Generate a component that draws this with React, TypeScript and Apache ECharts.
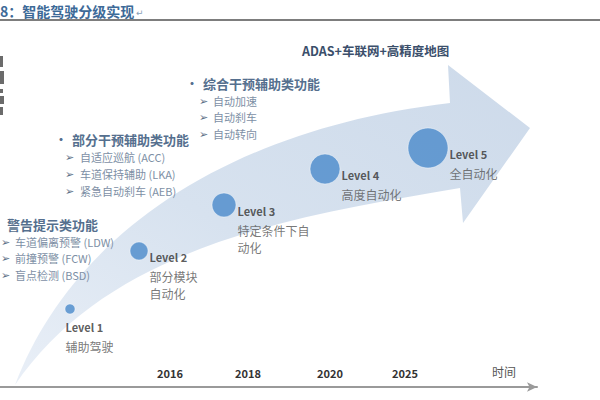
import React, { useEffect, useRef } from "react";
import * as echarts from "echarts";

// ---- data ----
const levelNames = ["Level 1", "Level 2", "Level 3", "Level 4", "Level 5"];
const levelDesc = ["辅助驾驶", "部分模块\n自动化", "特定条件下自\n动化", "高度自动化", "全自动化"];
const levelStage = [70, 139, 224, 325, 428];
const levelHeight = [78, 136, 182, 218, 239];
const levelSize = [10, 18, 24, 30, 40];

const yearLabels = ["2016", "2018", "2020", "2025"];
const yearStage = [170, 248, 330, 405];
const timeLabel = "时间";
const timeStage = 504;

const warnTitle = "警告提示类功能";
const warnFeatures = ["车道偏离预警 (LDW)", "前撞预警 (FCW)", "盲点检测 (BSD)"];
const partialTitle = "部分干预辅助类功能";
const partialFeatures = ["自适应巡航 (ACC)", "车道保持辅助 (LKA)", "紧急自动刹车 (AEB)"];
const combinedTitle = "综合干预辅助类功能";
const combinedFeatures = ["自动加速", "自动刹车", "自动转向"];
const topNote = "ADAS+车联网+高精度地图";
const chartTitle = "8：智能驾驶分级实现";

const ARROW_D =
  "M15,385 C70,240 220,130 450,103 L448,65 L530,128 L463,223 L460,188 C300,215 110,245 15,385 Z";

let registered = false;
function ensureShape() {
  if (registered) return;
  echarts.graphic.registerShape("growArrow", echarts.graphic.extendPath(ARROW_D, {}) as any);
  registered = true;
}

const FONT = '"Noto Sans CJK SC", "Noto Sans", sans-serif';

function featureBlock(title: string, items: string[], bx: number, by: number, hx: number, ax: number, tx: number, ys: number[], bullet: boolean) {
  const els: any[] = [];
  if (bullet) {
    els.push({ type: "text", x: bx, y: by, style: { text: "•", font: `bold 12px ${FONT}`, fill: "#556f8e", verticalAlign: "middle" } });
  }
  els.push({ type: "text", x: hx, y: by, style: { text: title, font: `bold 13px ${FONT}`, fill: "#556f8e", verticalAlign: "middle" } });
  items.forEach((it, i) => {
    els.push({ type: "text", x: ax, y: ys[i], style: { text: "➢", font: `11px "DejaVu Sans", sans-serif`, fill: "#5d6f86", verticalAlign: "middle" } });
    els.push({ type: "text", x: tx, y: ys[i], style: { text: it, font: `11px ${FONT}`, fill: "#7d8fa5", verticalAlign: "middle" } });
  });
  return els;
}

export default function App() {
  const ref = useRef<HTMLDivElement>(null);
  useEffect(() => {
    if (!ref.current) return;
    ensureShape();
    const chart = echarts.init(ref.current, null, { renderer: "svg" });

    const data = levelNames.map((n, i) => {
      const s = levelSize[i];
      const first = i === 0;
      const desc = levelDesc[i].split("\n").map((l) => `{cn|${l}}`).join("\n");
      return {
        value: [levelStage[i], levelHeight[i]],
        symbolSize: s,
        label: {
          show: true,
          position: first ? [s / 2 - 4, s + 3] : [s + 2, s / 2 - 4],
          align: "left",
          verticalAlign: "top",
          formatter: `{lv|${n}}\n${desc}`,
        },
      };
    });

    const labelValues = [...yearStage, timeStage];
    const labelMap: Record<number, string> = {};
    yearStage.forEach((v, i) => (labelMap[v] = `{yr|${yearLabels[i]}}`));
    labelMap[timeStage] = `{tm|${timeLabel}}`;

    const fragments = [
      [0, 56, 3, 11], [0, 71, 4, 13], [0, 89, 3, 4], [0, 96, 4, 8], [0, 107, 3, 8],
    ].map(([x, y, w, h]) => ({
      type: "rect",
      shape: { x, y, width: w, height: h },
      style: { fill: "#3a3a3a", opacity: 0.75 },
    }));

    const option: any = {
      animation: false,
      backgroundColor: "#ffffff",
      grid: { left: 0, right: 63, top: 0, bottom: 13, containLabel: false },
      xAxis: {
        type: "value",
        min: 0,
        max: 537,
        axisLine: {
          show: true,
          symbol: ["none", "arrow"],
          symbolSize: [7, 10],
          lineStyle: { color: "#9a9a9a", width: 2 },
        },
        axisTick: { show: false },
        splitLine: { show: false },
        axisLabel: {
          show: true,
          inside: true,
          margin: 9,
          customValues: labelValues,
          formatter: (v: number) => labelMap[v] ?? "",
          rich: {
            yr: { fontFamily: FONT, fontWeight: "bold", fontSize: 11, color: "#333333" },
            tm: { fontFamily: FONT, fontSize: 12, color: "#555555", padding: [0, 0, 1, 0] },
          },
        },
      },
      yAxis: {
        type: "value",
        min: 0,
        max: 387,
        show: false,
        splitLine: { show: false },
      },
      series: [
        {
          type: "scatter",
          z: 5,
          symbol: "circle",
          itemStyle: { color: "#4a8acb", borderColor: "rgba(255,255,255,0.55)", borderWidth: 1 },
          label: {
            rich: {
              lv: { fontFamily: FONT, fontWeight: "bold", fontSize: 11, color: "#333333", lineHeight: 21 },
              cn: { fontFamily: FONT, fontSize: 12, color: "#555555", lineHeight: 17 },
            },
          },
          data,
        },
      ],
      graphic: [
        {
          type: "growArrow",
          x: 0,
          y: 0,
          z: -10,
          silent: true,
          style: {
            fill: new echarts.graphic.LinearGradient(0, 1, 1, 0, [
              { offset: 0, color: "#e9eff7" },
              { offset: 0.45, color: "#d7e2ef" },
              { offset: 1, color: "#cddaea" },
            ]),
          },
        },
        {
          type: "text",
          x: 0,
          y: 11,
          style: { text: chartTitle, font: `bold 14px ${FONT}`, fill: "#3d6a98", verticalAlign: "middle" },
        },
        {
          type: "text",
          x: 136,
          y: 13,
          style: { text: "↵", font: `9px "DejaVu Sans", sans-serif`, fill: "#8aa0b8", verticalAlign: "middle" },
        },
        {
          type: "line",
          shape: { x1: 0, y1: 20, x2: 600, y2: 20 },
          style: { stroke: "#7d7d7d", lineWidth: 2 },
        },
        ...fragments,
        {
          type: "text",
          x: 302,
          y: 50,
          style: { text: topNote, font: `bold 12.5px ${FONT}`, fill: "#3b4f6b", verticalAlign: "middle" },
        },
        ...featureBlock(combinedTitle, combinedFeatures, 186, 83, 203, 199, 213, [101, 117, 134], true),
        ...featureBlock(partialTitle, partialFeatures, 55, 139, 72, 65, 80, [157, 174, 191], true),
        ...featureBlock(warnTitle, warnFeatures, 0, 224, 7, 1, 15, [242, 258, 275], false),
      ],
    };

    chart.setOption(option);
    return () => chart.dispose();
  }, []);

  return (
    <div style={{ position: "fixed", left: 0, top: 0, width: 600, height: 400 }}>
      <div ref={ref} style={{ width: 600, height: 400 }} />
    </div>
  );
}
